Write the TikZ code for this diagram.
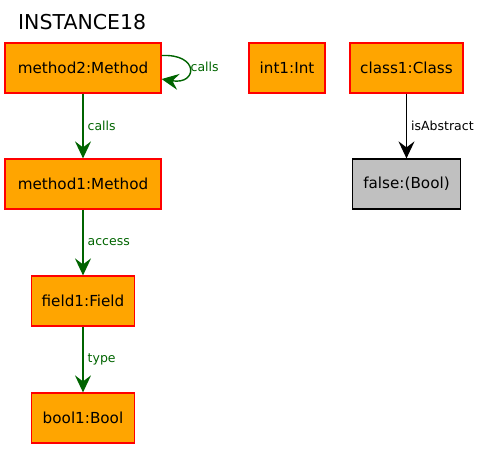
\documentclass[tikz,border=0pt]{standalone}
\usepackage{fontspec}
\setmainfont{DejaVu Sans}
\usetikzlibrary{arrows.meta}
\definecolor{objfill}{RGB}{255,165,0}
\definecolor{valfill}{RGB}{192,192,192}
\definecolor{linkgreen}{RGB}{0,100,0}
\begin{document}
\begin{tikzpicture}[x=1pt,y=-1pt,
	obj_node/.style={rectangle,fill=objfill,draw=red,line width=1.2pt,minimum height=50pt,inner sep=0pt,font=\fontsize{15.2}{18}\selectfont},
	val_node/.style={rectangle,fill=valfill,draw=black,line width=1.2pt,minimum height=50pt,inner sep=0pt,font=\fontsize{15.2}{18}\selectfont},
	link/.style={draw=linkgreen,line width=1.4pt,-{Stealth[length=17pt,width=16pt,inset=6pt]}},
	link_label/.style={text=linkgreen,font=\fontsize{12.5}{14}\selectfont,inner sep=0pt}]
		
		\useasboundingbox (0,0) rectangle (487,449);
		\node[anchor=base west,inner sep=0pt,font=\fontsize{20.5}{24}\selectfont] (title) at (18,30) {INSTANCE18};
		
		\node[obj_node,minimum width=156pt] (method2) at (83,68) {method2:Method};
		\node[obj_node,minimum width=76pt] (int1) at (287,68) {int1:Int};
		\node[obj_node,minimum width=113pt] (class1) at (406.5,68) {class1:Class};
		\node[val_node,minimum width=108pt] (false) at (406.5,184) {false:(Bool)};
		\node[obj_node,minimum width=156pt] (method1) at (83,184) {method1:Method};
		\node[obj_node,minimum width=103pt] (field1) at (83,301) {field1:Field};
		\node[obj_node,minimum width=103pt] (bool1) at (83,418) {bool1:Bool};
		
		\draw[link] (method2.9) .. controls +(38,-2) and +(36,6) .. (method2.-8)
			node[link_label,anchor=west] at (190,67) {calls};
		\draw[link] (method2) -- (method1) node[link_label,midway,anchor=west,xshift=4pt] {calls};
		\draw[link] (method1) -- (field1) node[link_label,midway,anchor=west,xshift=4pt] {access};
		\draw[link] (field1) -- (bool1) node[link_label,midway,anchor=west,xshift=4pt] {type};
		\draw[link,draw=black] (class1) -- (false) node[link_label,text=black,midway,anchor=west,xshift=4pt] {isAbstract};
		\end{tikzpicture}
\end{document}
